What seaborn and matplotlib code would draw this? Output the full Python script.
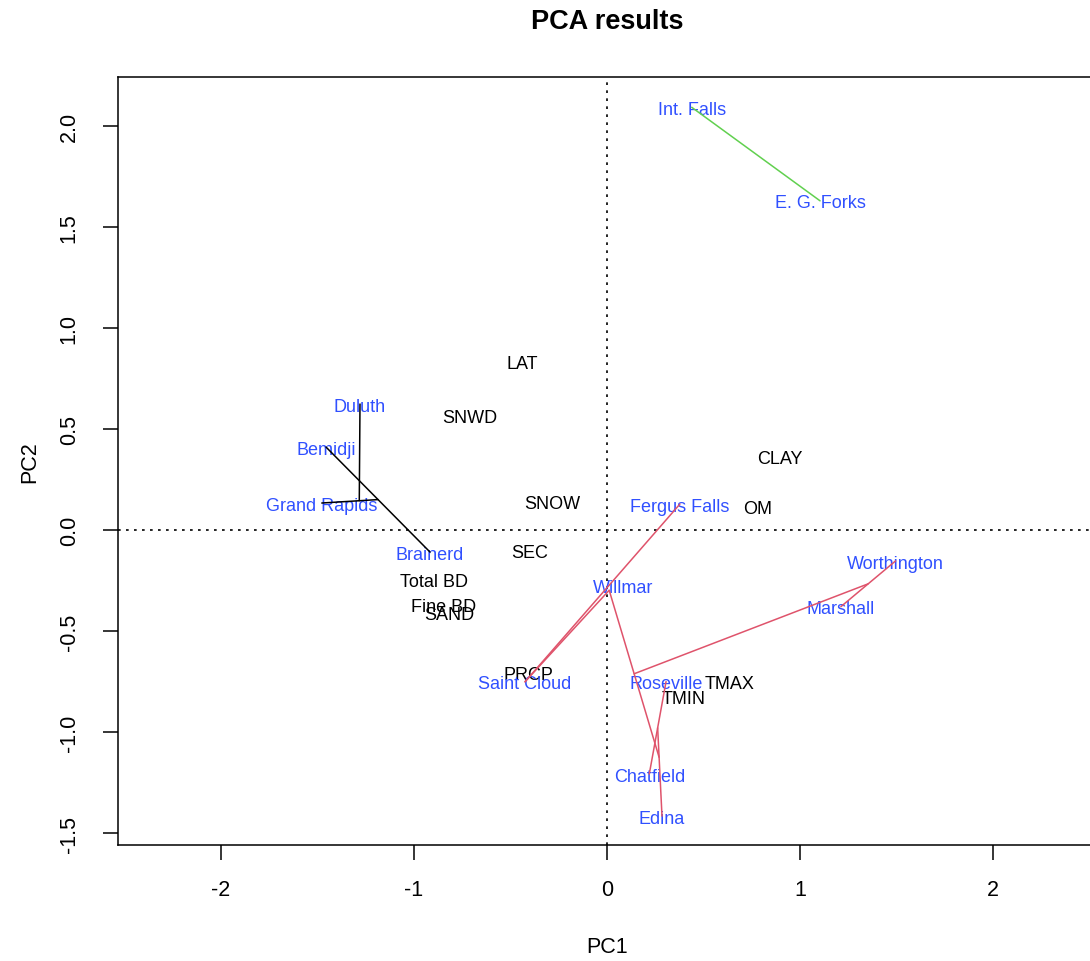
import numpy as np
import pandas as pd
import matplotlib
matplotlib.use("Agg")
import matplotlib.pyplot as plt
import matplotlib.transforms as mtransforms
import seaborn as sns

# ---- PCA scores -------------------------------------------------------------
site_names = ["Int. Falls", "E. G. Forks", "Duluth", "Bemidji", "Grand Rapids",
              "Brainerd", "Fergus Falls", "Willmar", "Saint Cloud", "Roseville",
              "Chatfield", "Edina", "Marshall", "Worthington"]
site_pc1 = [0.439, 1.104, -1.280, -1.456, -1.478, -0.917, 0.378, 0.081,
            -0.425, 0.306, 0.219, 0.285, 1.212, 1.495]
site_pc2 = [2.093, 1.630, 0.624, 0.411, 0.134, -0.109, 0.129, -0.272,
            -0.751, -0.750, -1.208, -1.416, -0.379, -0.153]

var_names = ["LAT", "SNWD", "CLAY", "SNOW", "OM", "SEC", "Total BD", "Fine BD",
             "SAND", "PRCP", "TMAX", "TMIN"]
var_pc1 = [-0.440, -0.711, 0.896, -0.283, 0.782, -0.401, -0.895, -0.846,
           -0.819, -0.406, 0.635, 0.399]
var_pc2 = [0.837, 0.566, 0.366, 0.140, 0.119, -0.099, -0.246, -0.366,
           -0.407, -0.704, -0.749, -0.825]

# Cluster tree edges: each edge joins the centroids of two groups of sites
cluster_edges = {
    1: [(["Bemidji"], ["Brainerd"]),
        (["Grand Rapids"], ["Bemidji", "Brainerd"]),
        (["Duluth"], ["Bemidji", "Brainerd", "Grand Rapids"])],
    2: [(["Marshall"], ["Worthington"]),
        (["Roseville"], ["Chatfield"]),
        (["Edina"], ["Roseville", "Chatfield"]),
        (["Saint Cloud"], ["Fergus Falls"]),
        (["Saint Cloud"], ["Saint Cloud", "Fergus Falls", "Willmar"]),
        (["Saint Cloud", "Fergus Falls", "Willmar"], ["Roseville", "Chatfield", "Edina"]),
        (["Marshall", "Worthington"],
         ["Saint Cloud", "Fergus Falls", "Willmar", "Roseville", "Chatfield", "Edina"])],
    3: [(["Int. Falls"], ["E. G. Forks"])],
}
cluster_colors = {1: "black", 2: "#DF536B", 3: "#61D04F"}

x_ticks = [-2, -1, 0, 1, 2]
y_ticks = [-1.5, -1.0, -0.5, 0.0, 0.5, 1.0, 1.5, 2.0]

# ---- build segment table -----------------------------------------------------
scores = pd.DataFrame({"PC1": site_pc1, "PC2": site_pc2}, index=site_names)
rows = []
seg_id = 0
for cl, edges in cluster_edges.items():
    for a, b in edges:
        for grp in (a, b):
            c = scores.loc[grp].mean()
            rows.append({"PC1": c["PC1"], "PC2": c["PC2"], "seg": seg_id, "cluster": cl})
        seg_id += 1
segments = pd.DataFrame(rows)

# ---- figure -----------------------------------------------------------------
sns.set_theme(style="white")
plt.rcParams["font.family"] = ["Liberation Sans", "DejaVu Sans"]
plt.rcParams["text.color"] = "black"
plt.rcParams["axes.labelcolor"] = "black"
plt.rcParams["axes.titlecolor"] = "black"

W, H = 1090, 962
fig = plt.figure(figsize=(W / 100, H / 100), dpi=100)
ax_l, ax_r, ax_t, ax_b = 118, 1096, 78, 846
ax = fig.add_axes([ax_l / W, 1 - ax_b / H, (ax_r - ax_l) / W, (ax_b - ax_t) / H])
ax.set_xlim(-2.534, 2.534)
ax.set_ylim(-1.559, 2.243)

# reference lines through the origin
ax.axhline(0, color="black", lw=1.2, dashes=(1.6, 3.2), zorder=1)
ax.axvline(0, color="black", lw=1.2, dashes=(1.6, 3.2), zorder=1)

# text is centred on the cap height of the label
cap_off = mtransforms.offset_copy(ax.transData, fig=fig, x=0, y=-4.7, units="points")

for name, x, y in zip(var_names, var_pc1, var_pc2):
    ax.text(x, y, name, color="black", fontsize=13, ha="center", va="baseline",
            transform=cap_off, zorder=2)
for name, x, y in zip(site_names, site_pc1, site_pc2):
    ax.text(x, y, name, color="#3050FF", fontsize=13, ha="center", va="baseline",
            transform=cap_off, zorder=3)

sns.lineplot(data=segments, x="PC1", y="PC2", units="seg", estimator=None,
             hue="cluster", palette=cluster_colors, sort=False, legend=False,
             lw=1.1, ax=ax, zorder=4)

ax.set_xticks(x_ticks)
ax.set_xticklabels([f"{v:g}" for v in x_ticks])
ax.set_yticks(y_ticks)
ax.set_yticklabels([f"{v:.1f}" for v in y_ticks], rotation=90, va="center")
ax.tick_params(axis="both", direction="out", length=10.5, width=1.1,
               labelsize=15.5, color="black", labelcolor="black")
ax.tick_params(axis="x", pad=14)
ax.tick_params(axis="y", pad=17)
ax.tick_params(bottom=True, left=True)

for s in ax.spines.values():
    s.set_color("black")
    s.set_linewidth(1.1)
    s.set_visible(True)

ax.set_xlabel("PC1", fontsize=15.5, color="black")
ax.xaxis.label.set_va("center")
ax.xaxis.set_label_coords(0.5, (ax_b - 948) / (ax_b - ax_t))
ax.set_ylabel("PC2", fontsize=15.5, color="black")
ax.yaxis.label.set_va("center")
ax.yaxis.set_label_coords((30 - ax_l) / (ax_r - ax_l), 0.5)

ax.set_title("PCA results", fontsize=19.5, fontweight="bold", color="black",
             y=1 + (ax_t - 22) / (ax_b - ax_t), va="center", pad=0)

fig.savefig("out.png", dpi=100)
